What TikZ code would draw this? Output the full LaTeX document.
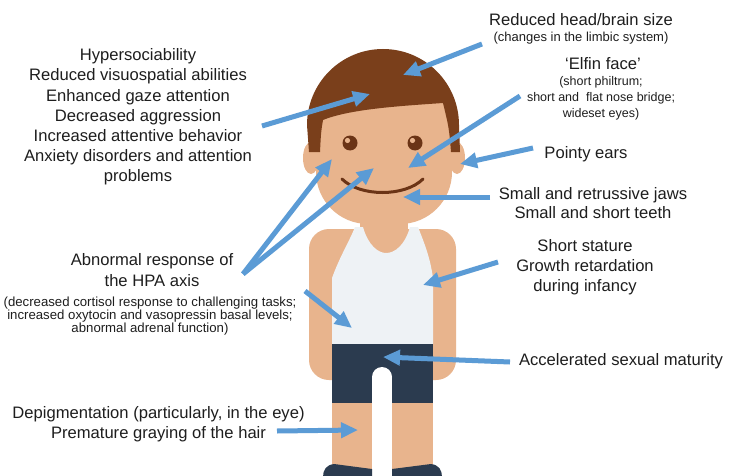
\documentclass[tikz,border=0pt]{standalone}
\usepackage{fontspec}
\setmainfont{Liberation Sans}
\usetikzlibrary{arrows.meta}
\definecolor{skin}{HTML}{E8B48D}
\definecolor{hair}{HTML}{7A3F1B}
\definecolor{navy}{HTML}{2B3B4F}
\definecolor{shirt}{HTML}{EEF2F5}
\definecolor{arrowblue}{HTML}{5B9BD5}
\definecolor{ink}{HTML}{1E1E1E}
\definecolor{eyebrown}{HTML}{6B3416}
\newcommand\mainsz{\fontsize{16.6}{20.2}\selectfont}
\newcommand\subsz{\fontsize{12.5}{16}\selectfont}
\newcommand\hpasz{\fontsize{13.2}{13.4}\selectfont}
\begin{document}
\begin{tikzpicture}[x=1pt,y=-1pt,
  label/.style={text=ink, align=center, inner sep=0pt, font=\mainsz},
  sublabel/.style={text=ink, align=center, inner sep=0pt, font=\subsz},
  arr/.style={draw=arrowblue, line width=5pt, -{Triangle[length=17pt,width=15pt]}}]
\useasboundingbox (0,0) rectangle (741,476);
\fill[white] (0,0) rectangle (741,476);

% ---------- the boy ----------
% ears
\fill[skin] (311,158) ellipse [x radius=8, y radius=16];
\fill[skin] (457,158) ellipse [x radius=8, y radius=16];
% face
\fill[skin, rounded corners=52] (316,80) rectangle (452,224);
% neck
\fill[skin] (360,210) rectangle (408,240);
% shoulders and arms
\fill[skin, rounded corners=20] (309,229) rectangle (456,380);
% hair
\fill[hair] (309,152) -- (307,125) arc[start angle=180, end angle=360, radius=76]
  -- (460,152) -- (451,152) .. controls (449,128) .. (443,103)
  .. controls (400,106) and (350,109) .. (323,120)
  .. controls (321,132) .. (320,152) -- cycle;
% eyes
\fill[eyebrown] (350,143) circle (7.5);
\fill[eyebrown] (415,143) circle (7.5);
\fill[skin] (347.5,140.5) circle (2.6);
\fill[skin] (412.5,140.5) circle (2.6);
% smile
\draw[eyebrown, line width=3pt, line cap=round] (342,179) .. controls (360,197) and (405,197) .. (423,179);
% tank top
\fill[shirt] (332,344) -- (332,278) .. controls (340,256) and (350,240) .. (355,227)
  -- (363,227) .. controls (368,245) and (378,253) .. (386,253)
  .. controls (395,253) and (405,245) .. (410,227)
  -- (418,227) .. controls (423,240) and (430,256) .. (433,278) -- (433,344) -- cycle;
% shorts
\fill[navy] (332,344) rectangle (433,403);
% legs
\fill[skin] (332,403) rectangle (433,470);
% gap between the legs
\fill[white] (372,377) rectangle (392,477);
\fill[white] (382,377) circle (10);
% shoes
\fill[navy] (323,477) .. controls (323,470) and (326,465) .. (334,464) -- (372,469) -- (372,477) -- cycle;
\fill[navy] (442,477) .. controls (442,470) and (439,465) .. (431,464) -- (392,469) -- (392,477) -- cycle;

% ---------- labels ----------
\node[label] (behav) at (138,117) {Hypersociability\\Reduced visuospatial abilities\\Enhanced gaze attention\\Decreased aggression\\Increased attentive behavior\\Anxiety disorders and attention\\problems};
\node[label] (brainT) at (581,20) {Reduced head/brain size};
\node[sublabel, font=\fontsize{13}{16}\selectfont] (brainS) at (581,38) {(changes in the limbic system)};
\node[label] (elfT) at (603,64) {‘Elfin face’};
\node[sublabel] (elfS) at (601,98) {(short philtrum;\\short and\ \ flat nose bridge;\\wideset eyes)};
\node[label] (ears) at (586,154) {Pointy ears};
\node[label, font=\fontsize{16.6}{19.5}\selectfont] (jaws) at (593,203) {Small and retrussive jaws\\Small and short teeth};
\node[label] (stature) at (585,267) {Short stature\\Growth retardation\\during infancy};
\node[label] (sexual) at (621,361) {Accelerated sexual maturity};
\node[label, font=\fontsize{16.6}{19.5}\selectfont] (depig) at (158.5,424) {Depigmentation (particularly, in the eye)\\Premature graying of the hair};
\node[label, font=\fontsize{16.6}{21}\selectfont] (hpaT) at (152,270) {Abnormal response of\\the HPA axis};
\node[sublabel, font=\hpasz] (hpaS) at (150,316) {(decreased cortisol response to challenging tasks;\\increased oxytocin and vasopressin basal levels;\\abnormal adrenal function)};

% ---------- arrow end points ----------
\coordinate (brainTail) at (482,44);   \coordinate (brainTip) at (403,75);
\coordinate (behavTail) at (262,126);  \coordinate (behavTip) at (370,94);
\coordinate (elfTail) at (520,96);     \coordinate (elfTip) at (408,168);
\coordinate (earsTail) at (533,148);   \coordinate (earsTip) at (460,164);
\coordinate (jawsTail) at (490,197);   \coordinate (jawsTip) at (403,197);
\coordinate (statTail) at (498,262);   \coordinate (statTip) at (423,285);
\coordinate (sexTail) at (510,362);    \coordinate (sexTip) at (383,357);
\coordinate (depigTail) at (277,431);  \coordinate (depigTip) at (358,430);
\coordinate (hpaTail) at (243,274);
\coordinate (hpaTipA) at (332,159);    \coordinate (hpaTipB) at (374,168);
\coordinate (hpaShirtTail) at (305,291); \coordinate (hpaShirtTip) at (352,328);

% ---------- arrows ----------
\draw[arr] (brainTail) -- (brainTip);
\draw[arr] (behavTail) -- (behavTip);
\draw[arr] (elfTail) -- (elfTip);
\draw[arr] (earsTail) -- (earsTip);
\draw[arr] (jawsTail) -- (jawsTip);
\draw[arr] (statTail) -- (statTip);
\draw[arr] (sexTail) -- (sexTip);
\draw[arr] (depigTail) -- (depigTip);
\draw[arr] (hpaTail) -- (hpaTipA);
\draw[arr] (hpaTail) -- (hpaTipB);
\draw[arr] (hpaShirtTail) -- (hpaShirtTip);
\end{tikzpicture}
\end{document}
